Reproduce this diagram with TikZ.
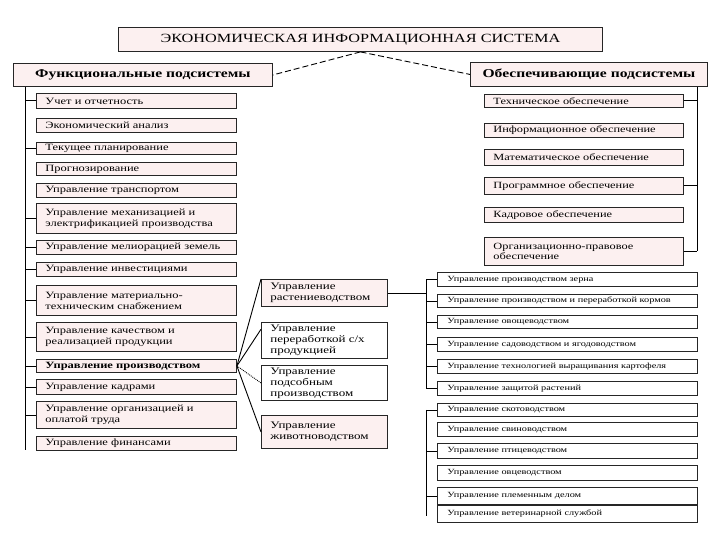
\documentclass[tikz,border=0pt]{standalone}
\usepackage{fontspec}
\setmainfont[FakeStretch=1.3]{Liberation Serif}
\definecolor{boxpink}{RGB}{252,240,240}

\begin{document}
\begin{tikzpicture}[x=1pt, y=-1pt, line width=0.9pt,
	box/.style={draw=black!85, fill=boxpink, anchor=north west, inner xsep=9pt, inner ysep=0.5pt, align=left},
	lbox/.style={box, text width=182pt, font=\fontsize{9.6}{11}\selectfont},
	mbox/.style={box, text width=108pt, font=\fontsize{10}{11}\selectfont},
	tbox/.style={box, text width=181pt, font=\fontsize{9.5}{10.5}\selectfont},
	sbox/.style={box, fill=white, inner xsep=10pt, text width=240pt, font=\fontsize{7.9}{9}\selectfont},
	head/.style={box, inner xsep=0pt, align=center, font=\bfseries\fontsize{12}{13}\selectfont}]
			%%%%% START %%%%%
			\useasboundingbox (0,0) rectangle (720,540);
			
			\node[head, text width=484pt, minimum height=24pt, font=\fontsize{12.5}{13}\selectfont] (ekis) at (118,27) {ЭКОНОМИЧЕСКАЯ ИНФОРМАЦИОННАЯ СИСТЕМА};
			\node[head, text width=259pt, minimum height=23pt] (fhead) at (13,63) {Функциональные подсистемы};
			\node[head, text width=237pt, minimum height=24pt] (ohead) at (470,62) {Обеспечивающие подсистемы};
			\draw[dash pattern=on 6pt off 3pt] (ekis.south) -- (fhead.east);
			\draw[dash pattern=on 6pt off 3pt] (ekis.south) -- (ohead.west);
			
			% functional subsystems
			\node[lbox, minimum height=15pt] (uchet) at (36,93) {Учет и отчетность};
			\node[lbox, minimum height=14pt] (ekan) at (36,118) {Экономический анализ};
			\node[lbox, minimum height=12pt] (tekpl) at (36,142) {Текущее планирование};
			\node[lbox, minimum height=13pt] (prog) at (36,162) {Прогнозирование};
			\node[lbox, minimum height=14pt] (transp) at (36,183) {Управление транспортом};
			\node[lbox, minimum height=30pt] (mech) at (36,203) {Управление механизацией и\\электрификацией производства};
			\node[lbox, minimum height=14pt] (melior) at (36,240) {Управление мелиорацией земель};
			\node[lbox, minimum height=14pt] (invest) at (36,262) {Управление инвестициями};
			\node[lbox, minimum height=30pt] (snab) at (36,285) {Управление материально-\\техническим снабжением};
			\node[lbox, minimum height=29pt] (kach) at (36,322) {Управление качеством и\\реализацией продукции};
			\node[lbox, minimum height=13pt, font=\bfseries\fontsize{9.6}{11}\selectfont] (proizv) at (36,359) {Управление производством};
			\node[lbox, minimum height=15pt] (kadry) at (36,379) {Управление кадрами};
			\node[lbox, minimum height=27pt] (orgtr) at (36,401) {Управление организацией и\\оплатой труда};
			\node[lbox, minimum height=14pt] (finans) at (36,436) {Управление финансами};
			
			\coordinate (lbus) at (25,450);
			\draw (lbus |- fhead.south) -- (lbus);
			\foreach \n in {uchet,tekpl,mech,melior,invest,snab,kach,proizv,kadry,orgtr}
				\draw (\n.west) -- (\n.west -| lbus);
			
			% supporting subsystems
			\node[tbox, minimum height=13pt] (tech) at (484,94) {Техническое обеспечение};
			\node[tbox, minimum height=14pt] (inform) at (484,123) {Информационное обеспечение};
			\node[tbox, minimum height=16pt] (matem) at (484,149) {Математическое обеспечение};
			\node[tbox, minimum height=17pt] (progr) at (484,177) {Программное обеспечение};
			\node[tbox, minimum height=15pt] (kadrob) at (484,207) {Кадровое обеспечение};
			\node[tbox, minimum height=28pt] (orgpr) at (484,237) {Организационно-правовое\\обеспечение};
			
			\coordinate (rbus) at (697,251);
			\draw (rbus |- ohead.south) -- (rbus);
			\foreach \n in {tech,progr,orgpr}
				\draw (\n.east) -- (\n.east -| rbus);
			
			% production branches
			\node[mbox, minimum height=27pt] (rast) at (261,279) {Управление\\растениеводством};
			\node[mbox, fill=white, minimum height=36pt] (perer) at (261,322) {Управление\\переработкой с/х\\продукцией};
			\node[mbox, fill=white, minimum height=35pt] (podsob) at (261,365) {Управление\\подсобным\\производством};
			\node[mbox, minimum height=33pt] (zhiv) at (261,415) {Управление\\животноводством};
			
			\draw (proizv.east) -- (rast.north west);
			\draw (proizv.east) -- (perer.170);
			\draw[densely dotted] (proizv.east) -- (podsob.west);
			\draw (proizv.east) -- (zhiv.west);
			
			% crop production
			\node[sbox, minimum height=14pt] (zerno) at (437,272) {Управление производством зерна};
			\node[sbox, minimum height=13pt] (korma) at (437,294) {Управление производством и переработкой кормов};
			\node[sbox, minimum height=13pt] (ovosch) at (437,315) {Управление овощеводством};
			\node[sbox, minimum height=14pt] (sad) at (437,337) {Управление садоводством и ягодоводством};
			\node[sbox, minimum height=14pt] (kartof) at (437,359) {Управление технологией выращивания картофеля};
			\node[sbox, minimum height=14pt] (zaschita) at (437,381) {Управление защитой растений};
			
			\coordinate (pbus) at (426,388);
			\draw (zerno.west -| pbus) -- (pbus);
			\draw (rast.east) -- (rast.east -| pbus);
			\foreach \n in {zerno,korma,ovosch,sad,kartof,zaschita}
				\draw (\n.west) -- (\n.west -| pbus);
			
			% livestock
			\node[sbox, minimum height=13pt] (skot) at (437,403) {Управление скотоводством};
			\node[sbox, minimum height=14pt] (svin) at (437,422) {Управление свиноводством};
			\node[sbox, minimum height=15pt] (ptic) at (437,443) {Управление птицеводством};
			\node[sbox, minimum height=15pt] (ovc) at (437,465) {Управление овцеводством};
			\node[sbox, minimum height=17pt] (plem) at (437,487) {Управление племенным делом};
			\node[sbox, minimum height=17pt] (veter) at (437,505) {Управление ветеринарной службой};
			
			\coordinate (zbus) at (426,516);
			\draw (skot.west -| zbus) -- (zbus);
			\foreach \n in {skot,ptic,plem}
				\draw (\n.west) -- (\n.west -| zbus);
			%%%%% END %%%%%
\end{tikzpicture}
\end{document}
